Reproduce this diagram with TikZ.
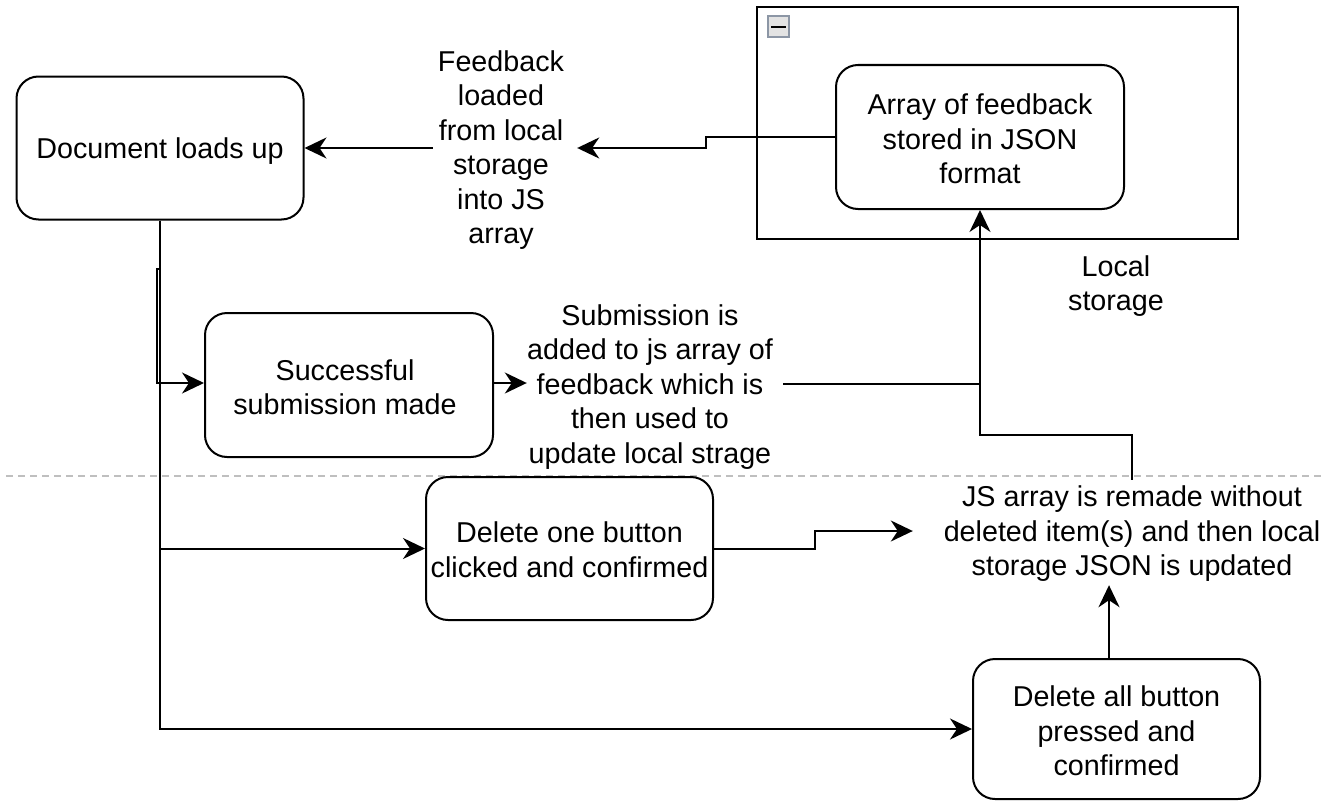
\documentclass[tikz,border=0pt]{standalone}
\usepackage{fontspec}
\setmainfont{Liberation Sans}
\usetikzlibrary{arrows.meta}
\definecolor{iconborder}{RGB}{140,150,165}
\begin{document}
\begin{tikzpicture}[x=1pt,y=-1pt,
  every node/.style={font=\fontsize{28.7}{34.5}\selectfont, align=center, inner sep=0pt},
  rbox/.style={draw, line width=2pt, rounded corners=22pt, fill=white},
  lbl/.style={draw=none},
  conn/.style={line width=2pt, -{Stealth[length=22pt,width=21pt,inset=7pt]}},
  plain/.style={line width=2pt}]
\useasboundingbox (0,0) rectangle (1324,800);
% dashed separator
\draw[gray!50, line width=1.5pt, dash pattern=on 7pt off 5pt] (6,476) -- (1324,476);
% container
\node[draw, line width=2pt, minimum width=481pt, minimum height=232pt] (ls) at (997.5,123) {};
\fill[gray!22, draw=iconborder, line width=1.5pt] (768,16) rectangle (789,37);
\draw[line width=2.5pt] (771,27) -- (786,27);
% boxes
\node[rbox, minimum width=287pt, minimum height=143pt,
  label={[name=docT, yshift=-3pt]center:Document loads up}] (doc) at (160,148) {};
\node[rbox, minimum width=288pt, minimum height=144pt,
  label={[name=arrT, yshift=-2pt]center:{Array of feedback\\stored in JSON\\format}}] (arr) at (980,137) {};
\node[rbox, minimum width=288pt, minimum height=144pt,
  label={[name=succT, xshift=-4pt, yshift=-2pt]center:{Successful\\submission made}}] (succ) at (349,385) {};
\node[rbox, minimum width=287pt, minimum height=143pt,
  label={[name=doneT, yshift=-1pt]center:{Delete one button\\clicked and confirmed}}] (done) at (569.5,548.5) {};
\node[rbox, minimum width=287pt, minimum height=140pt,
  label={[name=dallT, yshift=-2pt]center:{Delete all button\\pressed and\\confirmed}}] (dall) at (1116.5,729) {};
% text labels
\node[lbl, minimum width=144pt] (fb) at (501,150) {Feedback\\loaded\\from local\\storage\\into JS\\array};
\node[lbl] (lst) at (1116,286) {Local\\storage};
\node[lbl, minimum width=246pt] (sub) at (650,387) {Submission is\\added to js array of\\feedback which is\\then used to\\update local strage};
\node[lbl, minimum width=438pt, minimum height=102pt] (js) at (1132,534) {JS array is remade without\\deleted item(s) and then local\\storage JSON is updated};
\coordinate (m) at (980,435);
% connectors
\draw[conn] (arr.west) -- ++(-129,0) |- ([xshift=4pt,yshift=2pt]fb.east);
\draw[conn] ([xshift=4pt,yshift=2pt]fb.west) -- (doc.east);
\draw[conn] (doc.south) -- ++(0,48) -- ++(-3,0) |- ([yshift=2pt]succ.west);
\draw[conn] (doc.south) |- (done.west);
\draw[conn] (doc.south) |- (dall.west);
\draw[conn] ([yshift=2pt]succ.east) -- ([yshift=4pt]sub.west);
\draw[plain] ([xshift=10pt,yshift=3pt]sub.east) -| (m);
\draw[conn] ([yshift=3pt]js.north) |- (m) -- (arr.south);
\draw[conn] (done.east) -- ++(101,0) |- ([yshift=3pt]js.west);
\draw[conn] ([xshift=-7.5pt]dall.north) -- ([xshift=-23pt]js.south);
\end{tikzpicture}
\end{document}
